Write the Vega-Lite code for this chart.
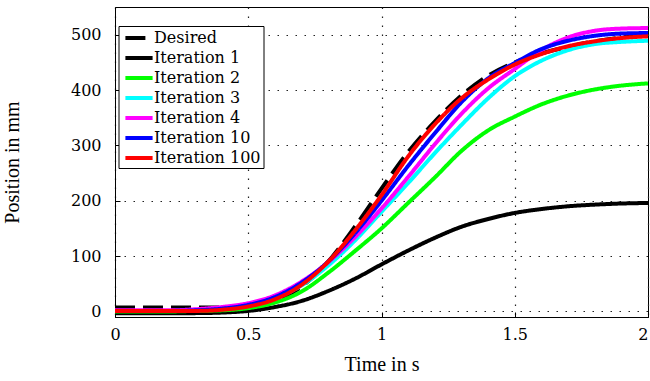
{
  "$schema": "https://vega.github.io/schema/vega-lite/v6.json",
  "width": 533,
  "height": 310,
  "autosize": {"type": "none"},
  "padding": {"left": 115, "top": 7, "right": 2, "bottom": 64},
  "background": "white",
  "config": {
    "view": {"stroke": "black", "strokeWidth": 1},
    "axis": {
      "labelFont": "DejaVu Serif",
      "titleFont": "Liberation Serif",
      "labelFontSize": 16,
      "titleFontSize": 20,
      "titleFontWeight": "normal",
      "labelColor": "black",
      "titleColor": "black",
      "domainColor": "black",
      "domainWidth": 1,
      "tickColor": "black",
      "tickSize": -5,
      "grid": true,
      "gridColor": "#222222",
      "gridDash": [1.5, 7.5],
      "gridWidth": 1.2
    }
  },
  "data": {
    "values": [
      {"series": "Desired", "t": 0.0, "pos": 7}, {"series": "Desired", "t": 0.1, "pos": 7}, {"series": "Desired", "t": 0.2, "pos": 7}, {"series": "Desired", "t": 0.3, "pos": 7}, {"series": "Desired", "t": 0.4, "pos": 7}, {"series": "Desired", "t": 0.5, "pos": 10}, {"series": "Desired", "t": 0.6, "pos": 19}, {"series": "Desired", "t": 0.7, "pos": 45}, {"series": "Desired", "t": 0.8, "pos": 90}, {"series": "Desired", "t": 0.9, "pos": 153}, {"series": "Desired", "t": 1.0, "pos": 222}, {"series": "Desired", "t": 1.1, "pos": 288}, {"series": "Desired", "t": 1.2, "pos": 343}, {"series": "Desired", "t": 1.3, "pos": 390}, {"series": "Desired", "t": 1.4, "pos": 426}, {"series": "Desired", "t": 1.5, "pos": 450}, {"series": "Desired", "t": 1.6, "pos": 466}, {"series": "Desired", "t": 1.7, "pos": 478}, {"series": "Desired", "t": 1.8, "pos": 488}, {"series": "Desired", "t": 1.9, "pos": 495}, {"series": "Desired", "t": 2.0, "pos": 500},

      {"series": "Iteration 1", "t": 0.0, "pos": -3}, {"series": "Iteration 1", "t": 0.1, "pos": -3}, {"series": "Iteration 1", "t": 0.2, "pos": -3}, {"series": "Iteration 1", "t": 0.3, "pos": -3}, {"series": "Iteration 1", "t": 0.4, "pos": -2}, {"series": "Iteration 1", "t": 0.5, "pos": 1}, {"series": "Iteration 1", "t": 0.6, "pos": 8}, {"series": "Iteration 1", "t": 0.7, "pos": 19}, {"series": "Iteration 1", "t": 0.8, "pos": 37}, {"series": "Iteration 1", "t": 0.9, "pos": 59}, {"series": "Iteration 1", "t": 1.0, "pos": 85}, {"series": "Iteration 1", "t": 1.1, "pos": 110}, {"series": "Iteration 1", "t": 1.2, "pos": 133}, {"series": "Iteration 1", "t": 1.3, "pos": 153}, {"series": "Iteration 1", "t": 1.4, "pos": 167}, {"series": "Iteration 1", "t": 1.5, "pos": 178}, {"series": "Iteration 1", "t": 1.6, "pos": 185}, {"series": "Iteration 1", "t": 1.7, "pos": 190}, {"series": "Iteration 1", "t": 1.8, "pos": 193}, {"series": "Iteration 1", "t": 1.9, "pos": 195}, {"series": "Iteration 1", "t": 2.0, "pos": 196},

      {"series": "Iteration 2", "t": 0.0, "pos": 0}, {"series": "Iteration 2", "t": 0.1, "pos": 0}, {"series": "Iteration 2", "t": 0.2, "pos": 0}, {"series": "Iteration 2", "t": 0.3, "pos": 1}, {"series": "Iteration 2", "t": 0.4, "pos": 2}, {"series": "Iteration 2", "t": 0.5, "pos": 6}, {"series": "Iteration 2", "t": 0.6, "pos": 16}, {"series": "Iteration 2", "t": 0.7, "pos": 36}, {"series": "Iteration 2", "t": 0.8, "pos": 70}, {"series": "Iteration 2", "t": 0.9, "pos": 109}, {"series": "Iteration 2", "t": 1.0, "pos": 150}, {"series": "Iteration 2", "t": 1.1, "pos": 196}, {"series": "Iteration 2", "t": 1.2, "pos": 242}, {"series": "Iteration 2", "t": 1.3, "pos": 290}, {"series": "Iteration 2", "t": 1.4, "pos": 327}, {"series": "Iteration 2", "t": 1.5, "pos": 352}, {"series": "Iteration 2", "t": 1.6, "pos": 374}, {"series": "Iteration 2", "t": 1.7, "pos": 390}, {"series": "Iteration 2", "t": 1.8, "pos": 401}, {"series": "Iteration 2", "t": 1.9, "pos": 408}, {"series": "Iteration 2", "t": 2.0, "pos": 412},

      {"series": "Iteration 3", "t": 0.0, "pos": 1}, {"series": "Iteration 3", "t": 0.1, "pos": 1}, {"series": "Iteration 3", "t": 0.2, "pos": 1}, {"series": "Iteration 3", "t": 0.3, "pos": 2}, {"series": "Iteration 3", "t": 0.4, "pos": 5}, {"series": "Iteration 3", "t": 0.5, "pos": 11}, {"series": "Iteration 3", "t": 0.6, "pos": 24}, {"series": "Iteration 3", "t": 0.7, "pos": 47}, {"series": "Iteration 3", "t": 0.8, "pos": 83}, {"series": "Iteration 3", "t": 0.9, "pos": 128}, {"series": "Iteration 3", "t": 1.0, "pos": 180}, {"series": "Iteration 3", "t": 1.1, "pos": 232}, {"series": "Iteration 3", "t": 1.2, "pos": 286}, {"series": "Iteration 3", "t": 1.3, "pos": 337}, {"series": "Iteration 3", "t": 1.4, "pos": 385}, {"series": "Iteration 3", "t": 1.5, "pos": 425}, {"series": "Iteration 3", "t": 1.6, "pos": 453}, {"series": "Iteration 3", "t": 1.7, "pos": 472}, {"series": "Iteration 3", "t": 1.8, "pos": 483}, {"series": "Iteration 3", "t": 1.9, "pos": 487}, {"series": "Iteration 3", "t": 2.0, "pos": 489},

      {"series": "Iteration 4", "t": 0.0, "pos": 2}, {"series": "Iteration 4", "t": 0.1, "pos": 2}, {"series": "Iteration 4", "t": 0.2, "pos": 2}, {"series": "Iteration 4", "t": 0.3, "pos": 4}, {"series": "Iteration 4", "t": 0.4, "pos": 8}, {"series": "Iteration 4", "t": 0.5, "pos": 15}, {"series": "Iteration 4", "t": 0.6, "pos": 29}, {"series": "Iteration 4", "t": 0.7, "pos": 54}, {"series": "Iteration 4", "t": 0.8, "pos": 89}, {"series": "Iteration 4", "t": 0.9, "pos": 134}, {"series": "Iteration 4", "t": 1.0, "pos": 186}, {"series": "Iteration 4", "t": 1.1, "pos": 243}, {"series": "Iteration 4", "t": 1.2, "pos": 302}, {"series": "Iteration 4", "t": 1.3, "pos": 357}, {"series": "Iteration 4", "t": 1.4, "pos": 403}, {"series": "Iteration 4", "t": 1.5, "pos": 438}, {"series": "Iteration 4", "t": 1.6, "pos": 472}, {"series": "Iteration 4", "t": 1.7, "pos": 495}, {"series": "Iteration 4", "t": 1.8, "pos": 507}, {"series": "Iteration 4", "t": 1.9, "pos": 511}, {"series": "Iteration 4", "t": 2.0, "pos": 512},

      {"series": "Iteration 10", "t": 0.0, "pos": 1}, {"series": "Iteration 10", "t": 0.1, "pos": 1}, {"series": "Iteration 10", "t": 0.2, "pos": 1}, {"series": "Iteration 10", "t": 0.3, "pos": 2}, {"series": "Iteration 10", "t": 0.4, "pos": 5}, {"series": "Iteration 10", "t": 0.5, "pos": 12}, {"series": "Iteration 10", "t": 0.6, "pos": 26}, {"series": "Iteration 10", "t": 0.7, "pos": 52}, {"series": "Iteration 10", "t": 0.8, "pos": 90}, {"series": "Iteration 10", "t": 0.9, "pos": 141}, {"series": "Iteration 10", "t": 1.0, "pos": 200}, {"series": "Iteration 10", "t": 1.1, "pos": 263}, {"series": "Iteration 10", "t": 1.2, "pos": 322}, {"series": "Iteration 10", "t": 1.3, "pos": 378}, {"series": "Iteration 10", "t": 1.4, "pos": 421}, {"series": "Iteration 10", "t": 1.5, "pos": 449}, {"series": "Iteration 10", "t": 1.6, "pos": 474}, {"series": "Iteration 10", "t": 1.7, "pos": 489}, {"series": "Iteration 10", "t": 1.8, "pos": 498}, {"series": "Iteration 10", "t": 1.9, "pos": 502}, {"series": "Iteration 10", "t": 2.0, "pos": 503},

      {"series": "Iteration 100", "t": 0.0, "pos": 1}, {"series": "Iteration 100", "t": 0.1, "pos": 1}, {"series": "Iteration 100", "t": 0.2, "pos": 1}, {"series": "Iteration 100", "t": 0.3, "pos": 1}, {"series": "Iteration 100", "t": 0.4, "pos": 3}, {"series": "Iteration 100", "t": 0.5, "pos": 9}, {"series": "Iteration 100", "t": 0.6, "pos": 22}, {"series": "Iteration 100", "t": 0.7, "pos": 48}, {"series": "Iteration 100", "t": 0.8, "pos": 90}, {"series": "Iteration 100", "t": 0.9, "pos": 146}, {"series": "Iteration 100", "t": 1.0, "pos": 210}, {"series": "Iteration 100", "t": 1.1, "pos": 280}, {"series": "Iteration 100", "t": 1.2, "pos": 338}, {"series": "Iteration 100", "t": 1.3, "pos": 385}, {"series": "Iteration 100", "t": 1.4, "pos": 419}, {"series": "Iteration 100", "t": 1.5, "pos": 446}, {"series": "Iteration 100", "t": 1.6, "pos": 465}, {"series": "Iteration 100", "t": 1.7, "pos": 479}, {"series": "Iteration 100", "t": 1.8, "pos": 488}, {"series": "Iteration 100", "t": 1.9, "pos": 494}, {"series": "Iteration 100", "t": 2.0, "pos": 497}
    ]
  },
  "mark": {"type": "line", "interpolate": "monotone", "clip": true},
  "encoding": {
    "x": {
      "field": "t", "type": "quantitative",
      "scale": {"domain": [0, 2], "nice": false, "zero": false},
      "axis": {
        "title": "Time in s", "values": [0, 0.5, 1, 1.5, 2], "format": "~g",
        "labelPadding": 14, "titlePadding": 12, "labelFlush": false,
        "labelAlign": {"expr": "datum.value == 2 ? 'right' : 'center'"},
        "labelDx": {"expr": "datum.value == 2 ? 1 : 0"}
      }
    },
    "y": {
      "field": "pos", "type": "quantitative",
      "scale": {"domain": [-10, 550], "nice": false, "zero": false},
      "axis": {
        "title": "Position in mm", "values": [0, 100, 200, 300, 400, 500],
        "labelPadding": 19, "titlePadding": 48
      }
    },
    "color": {
      "field": "series", "type": "nominal",
      "scale": {
        "domain": ["Desired", "Iteration 1", "Iteration 2", "Iteration 3", "Iteration 4", "Iteration 10", "Iteration 100"],
        "range": ["#000000", "#000000", "#00ff00", "#00ffff", "#ff00ff", "#0000ff", "#ff0000"]
      },
      "legend": {
        "title": null,
        "orient": "none",
        "legendX": 3.5,
        "legendY": 19,
        "strokeColor": "black",
        "fillColor": "white",
        "padding": 2,
        "symbolType": "M-1.7,0H1.7",
        "symbolSize": 256,
        "symbolStrokeWidth": 4,
        "symbolOffset": 8.5,
        "labelOffset": 5,
        "rowPadding": 2,
        "labelFont": "DejaVu Serif",
        "labelFontSize": 16,
        "labelColor": "black"
      }
    },
    "strokeDash": {
      "field": "series", "type": "nominal",
      "scale": {
        "domain": ["Desired", "Iteration 1", "Iteration 2", "Iteration 3", "Iteration 4", "Iteration 10", "Iteration 100"],
        "range": [[20, 8], [1, 0], [1, 0], [1, 0], [1, 0], [1, 0], [1, 0]]
      },
      "legend": null
    },
    "strokeWidth": {"value": 4}
  }
}
